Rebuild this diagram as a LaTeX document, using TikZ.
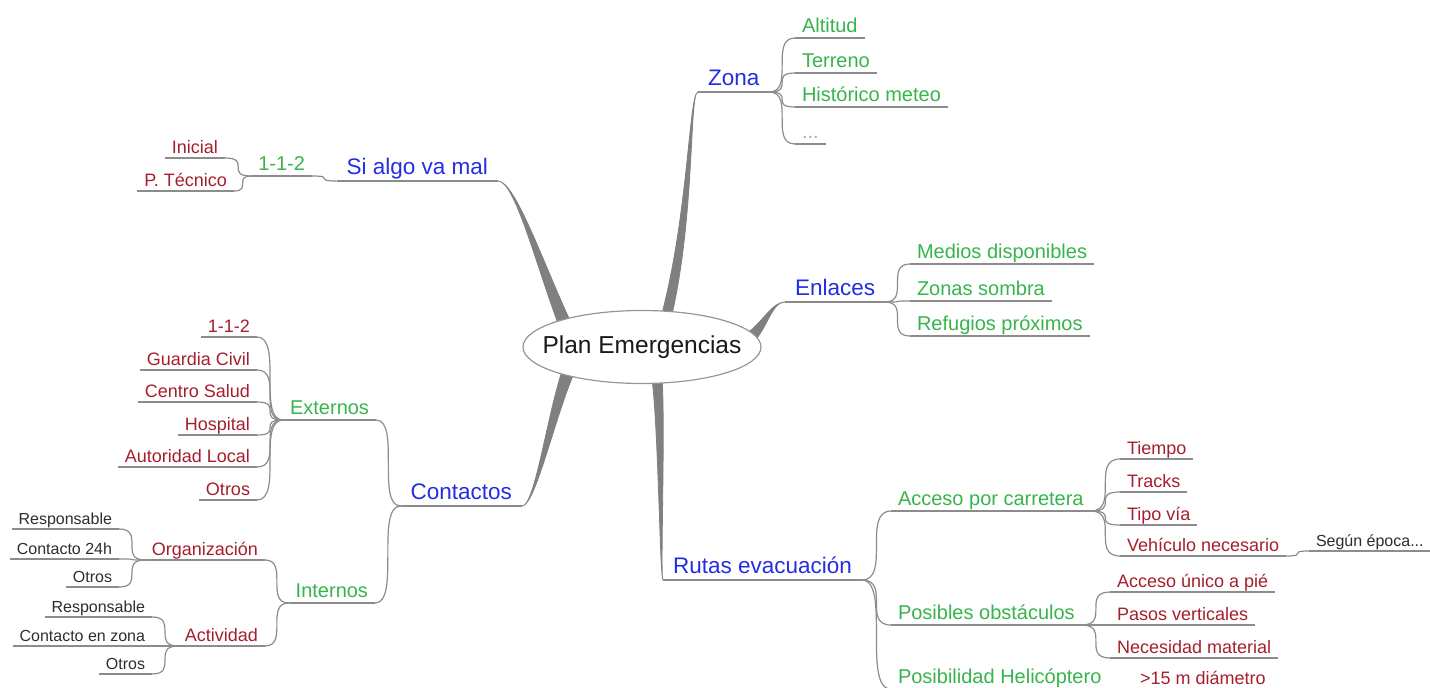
\documentclass[tikz,border=0pt]{standalone}
\usepackage{fontspec}
\setmainfont{Liberation Sans}
\usetikzlibrary{calc,shapes.geometric}
\definecolor{cblue}{RGB}{35,45,225}
\definecolor{cgreen}{RGB}{55,180,75}
\definecolor{cred}{RGB}{165,30,45}
\definecolor{cdark}{RGB}{45,45,45}
\definecolor{cline}{RGB}{140,140,140}
\definecolor{cbranch}{RGB}{128,128,128}
\definecolor{cdots}{RGB}{170,170,170}
\definecolor{croot}{RGB}{150,150,150}
\newcommand\conR[2]{\draw[uline] (#1.south east) .. controls (#2.south west |- #1.south east) and (#1.south east |- #2.south west) .. (#2.south west);}
\newcommand\conL[2]{\draw[uline] (#1.south west) .. controls (#2.south east |- #1.south west) and (#1.south west |- #2.south east) .. (#2.south east);}
\begin{document}
\begin{tikzpicture}[x=1pt,y=-1pt,
  txt/.style={inner ysep=0pt, outer sep=0pt},
  lone/.style={txt, font=\fontsize{22.5}{27}\selectfont, text=cblue, text depth=6.5pt, inner xsep=10pt},
  ltwo/.style={txt, font=\fontsize{20}{24}\selectfont, text=cgreen, text depth=6pt, inner xsep=7pt},
  lthree/.style={txt, font=\fontsize{18}{22}\selectfont, text=cred, text depth=5pt, inner xsep=7pt},
  lfour/.style={txt, font=\fontsize{16}{19}\selectfont, text=cdark, text depth=4.5pt, inner xsep=7pt},
  R/.style={anchor=south west}, L/.style={anchor=south east},
  uline/.style={draw=cline, line width=1.2pt},
  branch/.style={fill=cbranch, draw=cbranch, line width=0.8pt},
  rootnode/.style={ellipse, draw=croot, fill=white, line width=1.2pt, minimum width=238pt, minimum height=73pt, inner sep=0pt, font=\fontsize{24.5}{29}\selectfont, text=black!90}]
\useasboundingbox (0,0) rectangle (1430,688);
\clip (0,0) rectangle (1430,688);

% ---------- level 1 ----------
\node[lone,R] (zona) at (698,92) {Zona};
\node[lone,R] (enl) at (785,302) {Enlaces};
\node[lone,R] (rut) at (663,580) {Rutas evacuación};
\node[lone,L] (sia) at (498,181) {Si algo va mal};
\node[lone,L] (con) at (522,506) {Contactos};

% ---------- right side ----------
\node[ltwo,R] (alt) at (795,38) {Altitud};
\node[ltwo,R] (ter) at (795,73) {Terreno};
\node[ltwo,R] (his) at (795,107) {Histórico meteo};
\node[ltwo,R,text=cdots] (dots) at (795,144) {...};

\node[ltwo,R] (med) at (910,264) {Medios disponibles};
\node[ltwo,R] (zso) at (910,301) {Zonas sombra};
\node[ltwo,R] (refu) at (910,336) {Refugios próximos};

\node[ltwo,R] (acc) at (891,511) {Acceso por carretera};
\node[ltwo,R] (pos) at (891,625) {Posibles obstáculos};
\node[ltwo,R] (hel) at (891,689) {Posibilidad Helicóptero};
\node[lthree,R] (tie) at (1120,459) {Tiempo};
\node[lthree,R] (tra) at (1120,492) {Tracks};
\node[lthree,R] (tip) at (1120,525) {Tipo vía};
\node[lthree,R] (veh) at (1120,556) {Vehículo necesario};
\node[lfour,R] (seg) at (1309,551) {Según época...};
\node[lthree,R] (aun) at (1110,592) {Acceso único a pié};
\node[lthree,R] (pas) at (1110,625) {Pasos verticales};
\node[lthree,R] (nec) at (1110,658) {Necesidad material};
\node[lthree,R] (q15) at (1133,689) {>15 m diámetro};

% ---------- left side ----------
\node[ltwo,L] (s112) at (312,176) {1-1-2};
\node[lthree,L] (ini) at (225,158) {Inicial};
\node[lthree,L] (pte) at (234,191) {P. Técnico};

\node[ltwo,L] (ext) at (376,420) {Externos};
\node[ltwo,L] (int) at (375,603) {Internos};
\node[lthree,L] (e112) at (257,337) {1-1-2};
\node[lthree,L] (gc) at (257,370) {Guardia Civil};
\node[lthree,L] (cs) at (257,402) {Centro Salud};
\node[lthree,L] (hos) at (257,435) {Hospital};
\node[lthree,L] (aut) at (257,467) {Autoridad Local};
\node[lthree,L] (otr) at (257,500) {Otros};
\node[lthree,L] (org) at (265,560) {Organización};
\node[lthree,L] (act) at (265,646) {Actividad};
\node[lfour,L] (or1) at (119,529) {Responsable};
\node[lfour,L] (or2) at (119,559) {Contacto 24h};
\node[lfour,L] (or3) at (119,587) {Otros};
\node[lfour,L] (ac1) at (152,617) {Responsable};
\node[lfour,L] (ac2) at (152,646) {Contacto en zona};
\node[lfour,L] (ac3) at (152,674) {Otros};

% ---------- underlines ----------
\foreach \n in {zona,enl,rut,sia,con,alt,ter,his,dots,med,zso,refu,acc,pos,hel,tie,tra,tip,veh,seg,aun,pas,nec,q15,s112,ini,pte,ext,int,e112,gc,cs,hos,aut,otr,org,act,or1,or2,or3,ac1,ac2,ac3}
  \draw[uline] (\n.south west) -- (\n.south east);

% ---------- thin connectors ----------
\conR{zona}{alt}\conR{zona}{ter}\conR{zona}{his}\conR{zona}{dots}
\conR{enl}{med}\conR{enl}{zso}\conR{enl}{refu}
\conR{rut}{acc}\conR{rut}{pos}\conR{rut}{hel}
\conR{acc}{tie}\conR{acc}{tra}\conR{acc}{tip}\conR{acc}{veh}
\conR{veh}{seg}
\conR{pos}{aun}\conR{pos}{pas}\conR{pos}{nec}
\conR{hel}{q15}
\conL{sia}{s112}
\conL{s112}{ini}\conL{s112}{pte}
\conL{con}{ext}\conL{con}{int}
\conL{ext}{e112}\conL{ext}{gc}\conL{ext}{cs}\conL{ext}{hos}\conL{ext}{aut}\conL{ext}{otr}
\conL{int}{org}\conL{int}{act}
\conL{org}{or1}\conL{org}{or2}\conL{org}{or3}
\conL{act}{ac1}\conL{act}{ac2}\conL{act}{ac3}

% ---------- thick tapered branches ----------
\fill[branch] (sia.south east) .. controls (515,181) and (543.5,263.5) .. (569.6,319.7)
  -- (558.4,324.3) .. controls (536.5,266.5) and (515,181) .. (sia.south east) -- cycle;
\fill[branch] (con.south east) .. controls (535,506) and (553.7,421.4) .. (573.6,374.1)
  -- (562.4,369.9) .. controls (546.3,418.6) and (535,506) .. (con.south east) -- cycle;
\fill[branch] (zona.south west) .. controls (689,92) and (695.4,215.9) .. (670.9,319.2)
  -- (661.1,316.8) .. controls (688.6,214.1) and (689,92) .. (zona.south west) -- cycle;
\fill[branch] (enl.south west) .. controls (772,302) and (767.3,327.6) .. (753.6,342.3)
  -- (746.4,333.7) .. controls (762.7,322.4) and (772,302) .. (enl.south west) -- cycle;
\fill[branch] (rut.south west) .. controls (660,580) and (665.5,429.6) .. (662,377.5)
  -- (652,378.5) .. controls (658.5,430.4) and (660,580) .. (rut.south west) -- cycle;

% ---------- root ----------
\node[rootnode] (root) at (642,347) {\makebox[0pt]{Plan Emergencias}};
\end{tikzpicture}
\end{document}
